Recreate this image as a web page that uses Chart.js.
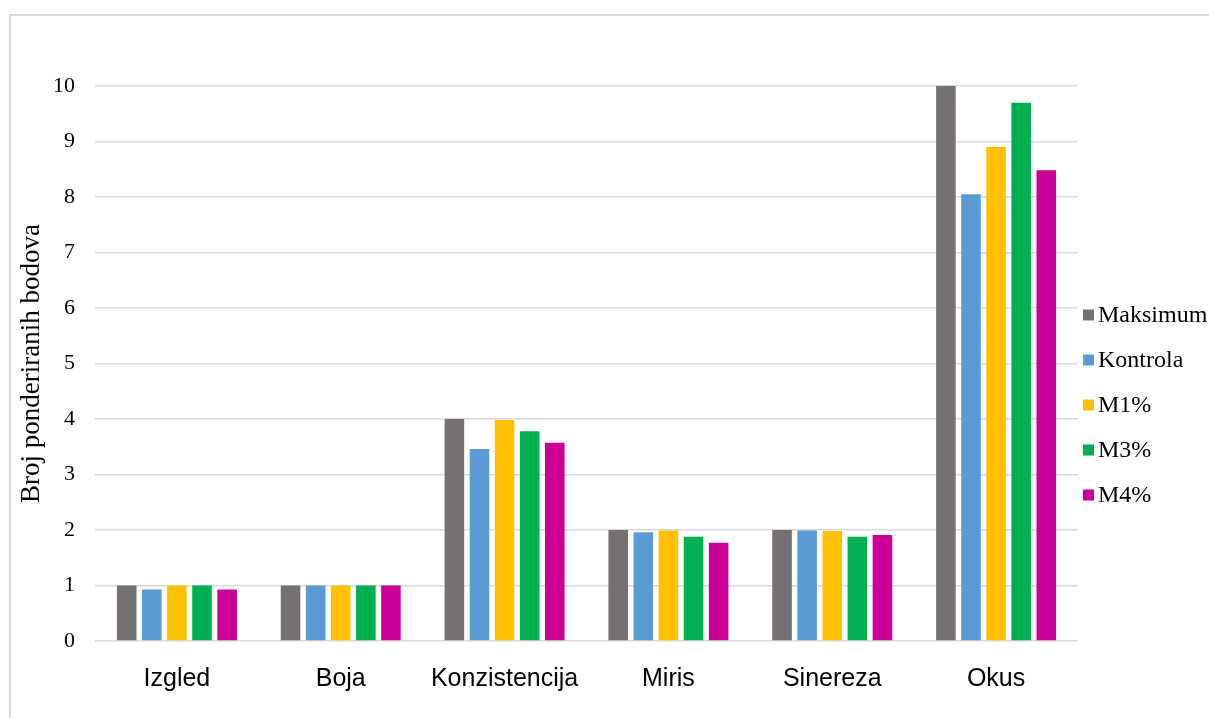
<!DOCTYPE html>
<html>
<head>
<meta charset="utf-8">
<script src="https://cdn.jsdelivr.net/npm/chart.js@4.4.1/dist/chart.umd.min.js"></script>
<style>
  html, body { margin: 0; padding: 0; background: #fff; overflow: hidden; }
  #frame { position: absolute; left: 9px; top: 14px; width: 1210px; height: 720px; border: 2px solid #d9d9d9; box-sizing: border-box; }
  #wrap { position: absolute; left: 0; top: 0; width: 1209px; height: 718px; }
</style>
</head>
<body>
<div id="frame"></div>
<div id="wrap"><canvas id="chart"></canvas></div>
<script>
// categories and series
const categories = ['Izgled', 'Boja', 'Konzistencija', 'Miris', 'Sinereza', 'Okus'];
const seriesNames = ['Maksimum', 'Kontrola', 'M1%', 'M3%', 'M4%'];
const maksimum = [1, 1, 4, 2, 2, 10];
const kontrola = [0.93, 1, 3.46, 1.96, 1.99, 8.05];
const m1 = [1, 1, 3.98, 1.99, 1.98, 8.9];
const m3 = [1, 1, 3.78, 1.88, 1.88, 9.7];
const m4 = [0.93, 1, 3.57, 1.77, 1.91, 8.48];
const colors = ['#767171', '#5b9bd5', '#ffc000', '#00b050', '#cc0099'];
const yTicks = [0, 1, 2, 3, 4, 5, 6, 7, 8, 9, 10];

const serif = '"Liberation Serif", "Times New Roman", serif';
const sans = '"Liberation Sans", Arial, sans-serif';

// legend drawn by hand so it sits like the original (right side, lower half)
const sideLegend = {
    id: 'sideLegend',
    afterDraw(chart) {
        const ctx = chart.ctx;
        const area = chart.chartArea;
        ctx.save();
        ctx.font = '24px ' + serif;
        ctx.textBaseline = 'middle';
        ctx.textAlign = 'left';
        chart.data.datasets.forEach((ds, i) => {
            const y = 315 + i * 45;
            ctx.fillStyle = ds.backgroundColor;
            ctx.fillRect(area.right + 5, y - 5.5, 11, 11);
            ctx.fillStyle = '#000';
            ctx.fillText(ds.label, area.right + 20, y + 1);
        });
        ctx.restore();
    }
};

const allSeries = [maksimum, kontrola, m1, m3, m4];

new Chart(document.getElementById('chart'), {
    type: 'bar',
    data: {
        labels: categories,
        datasets: allSeries.map((vals, i) => ({
            label: seriesNames[i],
            data: vals,
            backgroundColor: colors[i],
            categoryPercentage: 0.766,
            barPercentage: 0.78
        }))
    },
    options: {
        responsive: true,
        maintainAspectRatio: false,
        animation: false,
        layout: { padding: { left: 0, top: 86, right: 131, bottom: 0 } },
        plugins: {
            legend: { display: false },
            tooltip: { enabled: false }
        },
        scales: {
            x: {
                grid: { display: false },
                border: { display: false },
                ticks: { color: '#000', font: { family: sans, size: 25 }, padding: 15, maxRotation: 0 },
                afterFit: s => { s.height = 77; }
            },
            y: {
                min: 0,
                max: 10,
                afterBuildTicks: s => { s.ticks = yTicks.map(v => ({ value: v })); },
                grid: { color: '#d9d9d9', lineWidth: 1.5, drawTicks: false },
                border: { display: false },
                ticks: { color: '#000', font: { family: serif, size: 22 }, padding: 20 },
                title: {
                    display: true,
                    text: 'Broj ponderiranih bodova',
                    color: '#000',
                    font: { family: serif, size: 27, weight: 'normal' },
                    padding: { top: 16, bottom: 0 }
                },
                afterFit: s => { s.width = 95; }
            }
        }
    },
    plugins: [sideLegend]
});
</script>
</body>
</html>
